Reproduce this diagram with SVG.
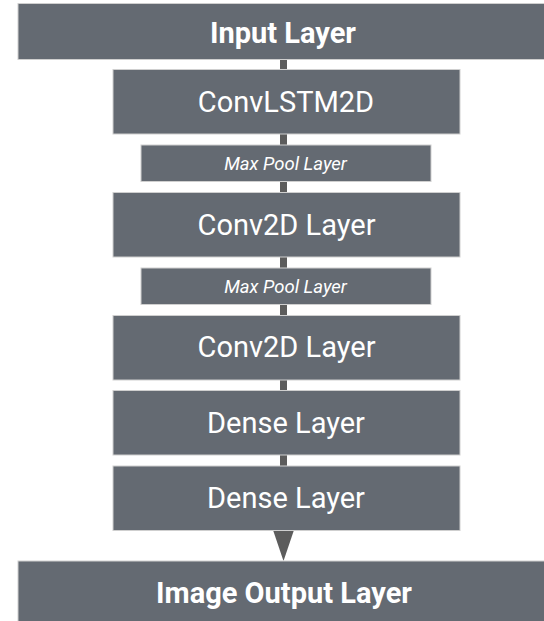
<svg xmlns="http://www.w3.org/2000/svg" width="544" height="621" viewBox="0 0 544 621">
<style>
.box{fill:#646a72;stroke:#cfcfcf;stroke-width:1}
.t{fill:#ffffff;font-family:Roboto,"Liberation Sans",sans-serif;text-anchor:middle}
.big{font-size:29px}
.bold{font-size:29px;font-weight:bold}
.small{font-size:18.5px;font-style:italic}
.conn{stroke:#5c5c5c;stroke-width:7;fill:none}
</style>
<rect width="544" height="621" fill="#ffffff"/>
<g id="connectors">
<line class="conn" x1="283.5" y1="59" x2="283.5" y2="531"/>
<polygon points="273,530 294,530 283.5,561" fill="#5c5c5c"/>
</g>
<g id="input"><rect class="box" x="18" y="3.5" width="530" height="56"/><text class="t bold" x="283" y="42.5">Input Layer</text></g>
<g id="convlstm"><rect class="box" x="113" y="69.5" width="347" height="64.5"/><text class="t big" x="286" y="111.5">ConvLSTM2D</text></g>
<g id="pool1"><rect class="box" x="141" y="145" width="290" height="36.5"/><text class="t small" x="285.5" y="169.5">Max Pool Layer</text></g>
<g id="conv1"><rect class="box" x="113" y="192.5" width="347" height="64.5"/><text class="t big" x="286.5" y="235">Conv2D Layer</text></g>
<g id="pool2"><rect class="box" x="141" y="268" width="290" height="36.5"/><text class="t small" x="285.5" y="292.5">Max Pool Layer</text></g>
<g id="conv2"><rect class="box" x="113" y="315.5" width="347" height="64.5"/><text class="t big" x="286.5" y="357">Conv2D Layer</text></g>
<g id="dense1"><rect class="box" x="113" y="390.5" width="347" height="64.5"/><text class="t big" x="286" y="432.5">Dense Layer</text></g>
<g id="dense2"><rect class="box" x="113" y="466" width="347" height="64.5"/><text class="t big" x="286" y="507.5">Dense Layer</text></g>
<g id="output"><rect class="box" x="18" y="561" width="530" height="64"/><text class="t bold" x="284" y="602.5">Image Output Layer</text></g>
</svg>
